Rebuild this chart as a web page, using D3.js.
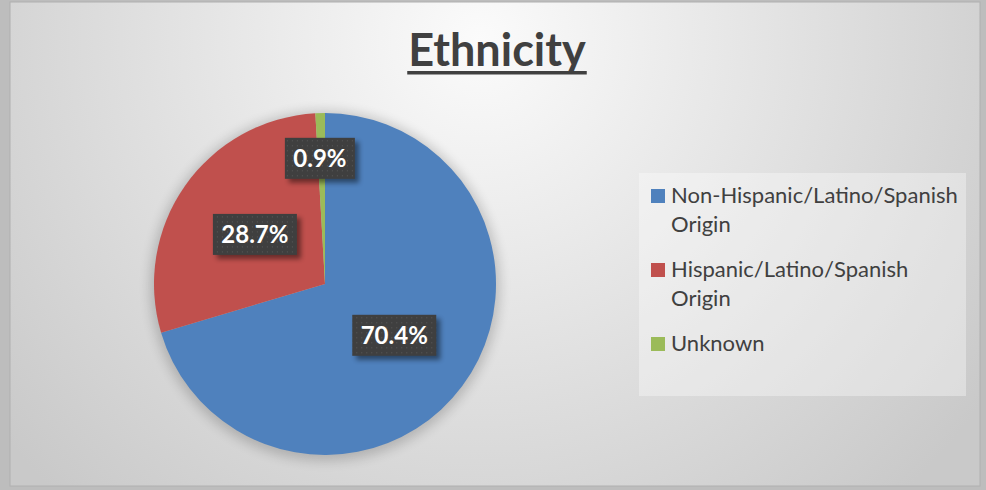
<!DOCTYPE html>
<html>
<head>
<meta charset="utf-8">
<script src="https://cdn.jsdelivr.net/npm/d3@7"></script>
<style>
  body { margin: 0; background: #c4c4c4; }
  svg { display: block; }
</style>
</head>
<body>
<div id="chart"></div>
<script>
var categories = ["Non-Hispanic/Latino/Spanish Origin", "Hispanic/Latino/Spanish Origin", "Unknown"];
var legendLines = [["Non-Hispanic/Latino/Spanish", "Origin"], ["Hispanic/Latino/Spanish", "Origin"], ["Unknown"]];
var values = [70.4, 28.7, 0.9];
var colors = ["#4f81bd", "#c0504d", "#9bbb59"];

var width = 986, height = 490;
var cx = 325, cy = 284, radius = 171;

var svg = d3.select("#chart").append("svg")
  .attr("width", width)
  .attr("height", height);

var defs = svg.append("defs");
var bg = defs.append("radialGradient").attr("id", "bg")
  .attr("gradientUnits", "userSpaceOnUse")
  .attr("cx", 480).attr("cy", 40).attr("r", 620);
bg.append("stop").attr("offset", "0%").attr("stop-color", "#fbfbfb");
bg.append("stop").attr("offset", "100%").attr("stop-color", "#c9c9c9");

var blur = defs.append("filter").attr("id", "pieShadow")
  .attr("x", "-20%").attr("y", "-20%").attr("width", "140%").attr("height", "140%");
blur.append("feGaussianBlur").attr("stdDeviation", 6);

var boxShadow = defs.append("filter").attr("id", "boxShadow")
  .attr("x", "-30%").attr("y", "-30%").attr("width", "160%").attr("height", "160%");
boxShadow.append("feGaussianBlur").attr("stdDeviation", 2.5);

var dots = defs.append("pattern").attr("id", "dots")
  .attr("patternUnits", "userSpaceOnUse")
  .attr("width", 5).attr("height", 5);
dots.append("rect").attr("width", 5).attr("height", 5).attr("fill", "#3f3f3f");
dots.append("rect").attr("x", 2).attr("y", 2).attr("width", 1).attr("height", 1).attr("fill", "#5a5a5a");

// frame + background
svg.append("rect")
  .attr("x", 0).attr("y", 0).attr("width", width).attr("height", height)
  .attr("fill", "#bdbdbd");
svg.append("rect")
  .attr("x", 10).attr("y", 2).attr("width", 970).attr("height", 484)
  .attr("fill", "url(#bg)")
  .attr("stroke", "#b0b0b0");

// title, underline drawn by hand so it is thick like the original
var title = svg.append("text")
  .attr("x", 497)
  .attr("y", 66)
  .attr("text-anchor", "middle")
  .style("font-family", "Lato, 'Open Sans', sans-serif")
  .style("font-weight", "bold")
  .style("font-size", "45px")
  .style("fill", "#404040")
  .text("Ethnicity");
var tw = title.node().getComputedTextLength();
svg.append("rect")
  .attr("x", 497 - tw / 2 - 1).attr("y", 71)
  .attr("width", tw + 2).attr("height", 3.5)
  .attr("fill", "#404040");

var pie = d3.pie().sort(null).value(function (d) { return d; });
var arc = d3.arc().innerRadius(0).outerRadius(radius);
var arcs = pie(values);

var g = svg.append("g").attr("transform", "translate(" + cx + "," + cy + ")");

g.append("circle")
  .attr("r", radius + 4)
  .attr("cy", 2)
  .attr("fill", "#000")
  .attr("opacity", 0.18)
  .attr("filter", "url(#pieShadow)");

g.selectAll(".slice")
  .data(arcs)
  .enter().append("path")
  .attr("class", "slice")
  .attr("d", arc)
  .attr("fill", function (d, i) { return colors[i]; });

// label positions (excel best fit), as fraction of radius
var labelOffsets = [[0.405, 0.30], [-0.41, -0.29], [-0.03, -0.735]];

var labels = g.selectAll(".lbl")
  .data(arcs)
  .enter().append("g")
  .attr("class", "lbl")
  .attr("transform", function (d, i) {
    return "translate(" + (labelOffsets[i][0] * radius) + "," + (labelOffsets[i][1] * radius) + ")";
  });

labels.each(function (d, i) {
  var el = d3.select(this);
  var t = d3.format(".1f")(d.data) + "%";
  var w = t.length * 14 + 14, h = 41;
  el.append("rect")
    .attr("x", -w / 2 + 4).attr("y", -h / 2 + 4)
    .attr("width", w).attr("height", h)
    .attr("fill", "#000").attr("opacity", 0.45)
    .attr("filter", "url(#boxShadow)");
  el.append("rect")
    .attr("x", -w / 2).attr("y", -h / 2)
    .attr("width", w).attr("height", h)
    .attr("fill", "url(#dots)");
  el.append("text")
    .attr("text-anchor", "middle")
    .attr("dy", "0.36em")
    .style("font-family", "Lato, 'Open Sans', sans-serif")
    .style("font-weight", "bold")
    .style("font-size", "24px")
    .style("fill", "#fff")
    .text(t);
});

// legend
svg.append("rect")
  .attr("x", 639).attr("y", 173)
  .attr("width", 327).attr("height", 223)
  .attr("fill", "#fff").attr("opacity", 0.35);

var legendY = [203, 277, 351];
var legend = svg.selectAll(".legend")
  .data(categories)
  .enter().append("g")
  .attr("class", "legend")
  .attr("transform", function (d, i) { return "translate(651," + legendY[i] + ")"; });

legend.append("rect")
  .attr("x", 0).attr("y", -14)
  .attr("width", 14).attr("height", 14)
  .attr("fill", function (d, i) { return colors[i]; });

legend.append("text")
  .attr("x", 20)
  .style("font-family", "Lato, 'Open Sans', sans-serif")
  .style("font-size", "22px")
  .style("fill", "#404040")
  .selectAll("tspan")
  .data(function (d, i) { return legendLines[i]; })
  .enter().append("tspan")
  .attr("x", 20)
  .attr("dy", function (d, j) { return j === 0 ? 0 : 29; })
  .text(function (d) { return d; });
</script>
</body>
</html>
